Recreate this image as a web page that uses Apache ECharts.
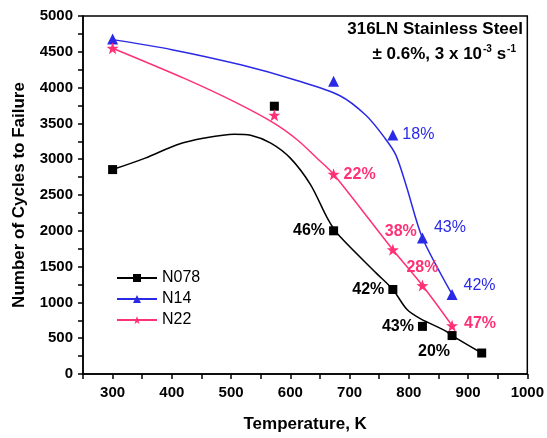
<!DOCTYPE html>
<html>
<head>
<meta charset="utf-8">
<script src="https://cdn.jsdelivr.net/npm/echarts@6/dist/echarts.min.js"></script>
<style>
  html, body { margin: 0; padding: 0; background: #fff; }
  #chart { width: 547px; height: 438px; }
</style>
</head>
<body>
<div id="chart"></div>
<script>
// measured points
var n078Temps = [300, 573, 673, 773, 823, 873, 923];
var n078Cycles = [2855, 3740, 2000, 1180, 665, 537, 293];
var n078Labels = ['', '', '46%', '42%', '43%', '20%', ''];

var n14Temps = [300, 673, 773, 823, 873];
var n14Cycles = [4680, 4090, 3337, 1900, 1112];
var n14Labels = ['', '', '18%', '43%', '42%'];

var n22Temps = [300, 573, 673, 773, 823, 873];
var n22Cycles = [4550, 3615, 2790, 1735, 1235, 675];
var n22Labels = ['', '', '22%', '38%', '28%', '47%'];

// fitted curves
var n078FitT = [300, 355, 410, 455, 505, 533, 567, 600, 634, 662, 680, 745, 773, 797, 820, 861, 873, 923];
var n078FitN = [2855, 3015, 3205, 3295, 3350, 3335, 3225, 3015, 2645, 2185, 1955, 1409, 1180, 900, 770, 606, 537, 293];
var n14FitT = [300, 400, 518, 611, 683, 728, 760, 778, 796, 823, 873];
var n14FitN = [4670, 4530, 4315, 4100, 3890, 3610, 3290, 3060, 2620, 1900, 1112];
var n22FitT = [300, 422, 506, 573, 612, 645, 673, 773, 823, 873];
var n22FitN = [4550, 4125, 3800, 3500, 3268, 3014, 2790, 1735, 1235, 675];

var BLACK = '#000000', BLUE = '#2a2ae6', PINK = '#ff3175';
var FONT = 'Arial, "Liberation Sans", sans-serif';
var STAR = 'path://M0,-10 L2.4,-3.2 L9.5,-3.1 L3.8,1.2 L5.9,8.1 L0,4 L-5.9,8.1 L-3.8,1.2 L-9.5,-3.1 L-2.4,-3.2 Z';

// label placement per point: [position, dx, dy]
var n078Place = [null, null, ['left', 0, 0], ['left', 0, 0], ['left', 0, 0], ['bottom', -18, 0], null];
var n14Place = [null, null, ['right', 0, 0], ['right', 2, -10], ['right', 2, -9]];
var n22Place = [null, null, ['right', 0, 0], ['top', 8, 0], ['top', 0, 0], ['right', 2, -2]];

function pairs(xs, ys) {
  return xs.map(function (x, i) { return [x, ys[i]]; });
}

function points(xs, ys, labels, place, color, bold) {
  return xs.map(function (x, i) {
    var item = { value: [x, ys[i]] };
    if (labels[i]) {
      item.label = {
        show: true,
        formatter: labels[i],
        position: place[i][0],
        offset: [place[i][1], place[i][2]],
        distance: 4,
        color: color,
        fontSize: 16,
        fontWeight: bold ? 'bold' : 'normal',
        fontFamily: FONT
      };
    }
    return item;
  });
}

var chart = echarts.init(document.getElementById('chart'));

var option = {
  animation: false,
  textStyle: { fontFamily: FONT },
  grid: {
    left: 83, right: 14, top: 16, bottom: 59,
    show: true, borderColor: '#000', borderWidth: 1.5
  },
  legend: {
    orient: 'vertical',
    left: 111, top: 265,
    itemWidth: 40, itemHeight: 10, itemGap: 5,
    textStyle: { fontSize: 16, color: '#000', fontFamily: FONT },
    data: ['N078', 'N14', 'N22']
  },
  xAxis: {
    type: 'value', min: 250, max: 1000, interval: 50,
    name: 'Temperature, K', nameLocation: 'middle', nameGap: 42,
    nameTextStyle: { fontSize: 17, fontWeight: 'bold', color: '#000' },
    axisLine: { lineStyle: { color: '#000', width: 1.5 } },
    axisTick: { inside: false, length: 5, lineStyle: { color: '#000', width: 1.5 } },
    axisLabel: {
      fontSize: 15, fontWeight: 'bold', color: '#000', margin: 11,
      formatter: function (v) { return v % 100 === 0 && v > 250 ? String(v) : ''; }
    },
    splitLine: { show: false }
  },
  yAxis: {
    type: 'value', min: 0, max: 5000, interval: 250,
    name: 'Number of Cycles to Failure', nameLocation: 'middle', nameGap: 55,
    nameTextStyle: { fontSize: 17, fontWeight: 'bold', color: '#000' },
    axisLine: { show: true, lineStyle: { color: '#000', width: 1.5 } },
    axisTick: { show: true, inside: false, length: 5, lineStyle: { color: '#000', width: 1.5 } },
    axisLabel: {
      fontSize: 15, fontWeight: 'bold', color: '#000', margin: 10,
      formatter: function (v) { return v % 500 === 0 ? String(v) : ''; }
    },
    splitLine: { show: false }
  },
  graphic: [{
    type: 'text', right: 24, top: 21,
    style: {
      text: '316LN Stainless Steel',
      font: 'bold 17px ' + FONT, fill: '#000'
    }
  }, {
    type: 'text', right: 31, top: 44,
    style: {
      text: '{b|\u00b1 0.6%, 3 x 10}{s|-3}{b| s}{s|-1}',
      rich: {
        b: { font: 'bold 17px ' + FONT, fill: '#000', verticalAlign: 'bottom' },
        s: { font: 'bold 10px ' + FONT, fill: '#000', padding: [0, 0, 9, 1], verticalAlign: 'bottom' }
      }
    }
  }],
  series: [
    { name: 'N078', type: 'line', data: pairs(n078FitT, n078FitN), smooth: 0.3, showSymbol: false,
      symbol: 'rect', symbolSize: 8, color: BLACK, lineStyle: { width: 1.5, color: BLACK }, z: 2 },
    { name: 'N14', type: 'line', data: pairs(n14FitT, n14FitN), smooth: 0.3, showSymbol: false,
      symbol: 'triangle', symbolSize: 10, color: BLUE, lineStyle: { width: 1.5, color: BLUE }, z: 2 },
    { name: 'N22', type: 'line', data: pairs(n22FitT, n22FitN), smooth: 0.3, showSymbol: false,
      symbol: STAR, symbolSize: 11, color: PINK, lineStyle: { width: 1.5, color: PINK }, z: 2 },
    { name: 'N078', type: 'scatter', symbol: 'rect', symbolSize: 9, itemStyle: { color: BLACK, opacity: 1 },
      data: points(n078Temps, n078Cycles, n078Labels, n078Place, BLACK, true), z: 3 },
    { name: 'N14', type: 'scatter', symbol: 'triangle', symbolSize: 11, itemStyle: { color: BLUE, opacity: 1 },
      data: points(n14Temps, n14Cycles, n14Labels, n14Place, BLUE, false), z: 3 },
    { name: 'N22', type: 'scatter', symbol: STAR, symbolSize: 12, itemStyle: { color: PINK, opacity: 1 },
      data: points(n22Temps, n22Cycles, n22Labels, n22Place, PINK, true), z: 3 }
  ]
};

chart.setOption(option);
</script>
</body>
</html>
